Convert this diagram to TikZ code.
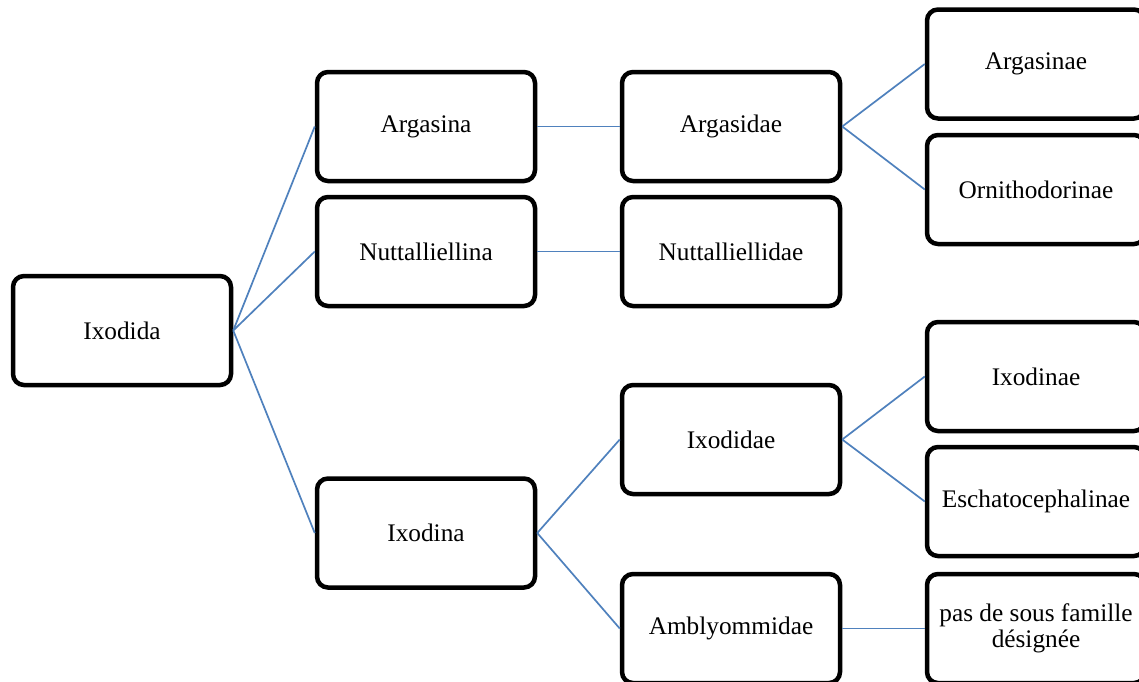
\documentclass[tikz,border=0pt]{standalone}
\usepackage{fontspec}
\setmainfont{Liberation Serif}
\definecolor{linkblue}{HTML}{4F81BD}
\begin{document}
\begin{tikzpicture}[x=1pt,y=-1pt,
  box/.style={draw=black, line width=4.5pt, rounded corners=11pt, fill=white,
    minimum width=218pt, minimum height=109pt, align=center,
    font=\fontsize{25.3}{25.5}\selectfont, inner sep=2pt},
  link/.style={draw=linkblue, line width=1.7pt}]
\clip (0,0) rectangle (1139,681);
\fill[white] (0,0) rectangle (1139,681);
\node[box] (ixodida) at (122,330.5) {Ixodida};
\node[box] (argasina) at (426,126.5) {Argasina};
\node[box] (nuttina) at (426,251.5) {Nuttalliellina};
\node[box] (ixodina) at (426,533) {Ixodina};
\node[box] (argasidae) at (731,126.5) {Argasidae};
\node[box] (nuttidae) at (731,251.5) {Nuttalliellidae};
\node[box] (ixodidae) at (731,439.5) {Ixodidae};
\node[box] (amblyo) at (731,628.5) {Amblyommidae};
\node[box] (argasinae) at (1036,64) {Argasinae};
\node[box] (ornitho) at (1036,189.5) {Ornithodorinae};
\node[box] (ixodinae) at (1036,376.5) {Ixodinae};
\node[box] (eschato) at (1036,501.5) {Eschatocephalinae};
\node[box] (pas) at (1036,628.5) {pas de sous famille\\désignée};
\draw[link] (ixodida.east) -- (argasina.west);
\draw[link] (ixodida.east) -- (nuttina.west);
\draw[link] (ixodida.east) -- (ixodina.west);
\draw[link] (argasina.east) -- (argasidae.west);
\draw[link] (nuttina.east) -- (nuttidae.west);
\draw[link] (argasidae.east) -- (argasinae.west);
\draw[link] (argasidae.east) -- (ornitho.west);
\draw[link] (ixodina.east) -- (ixodidae.west);
\draw[link] (ixodina.east) -- (amblyo.west);
\draw[link] (ixodidae.east) -- (ixodinae.west);
\draw[link] (ixodidae.east) -- (eschato.west);
\draw[link] (amblyo.east) -- (pas.west);
\end{tikzpicture}
\end{document}
